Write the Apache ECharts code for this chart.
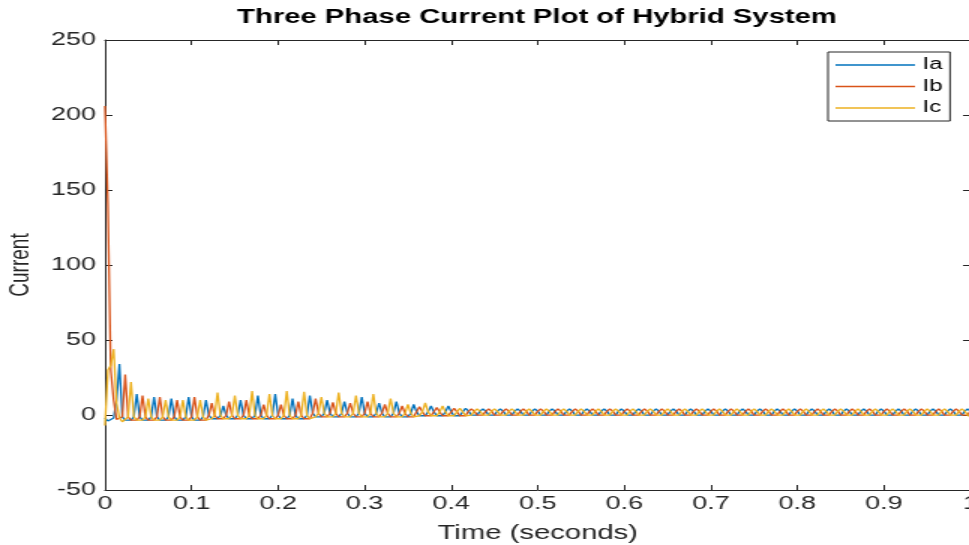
<!DOCTYPE html>
<html>
<head>
<meta charset="utf-8" />
<title>Three Phase Current Plot of Hybrid System</title>
<script src="https://cdn.jsdelivr.net/npm/echarts@6.0.0/dist/echarts.min.js"></script>
<style>
  html, body {
    margin: 0;
    padding: 0;
    background: #fff;
    overflow: hidden;
  }
  /* the figure is exported with a wide aspect, so draw narrow and stretch it */
  #main {
    width: 647px;
    height: 545px;
    transform: scaleX(1.5);
    transform-origin: 0 0;
  }
</style>
</head>
<body>
<div id="main"></div>
<script>
// sample step of the simulation output (s)
const dt = 1 / 300;

const xTicks = [0, 1, 0.1];
const yTicks = [-50, 250, 50];
const legendNames = ["Ia", "Ib", "Ic"];

// phase A current
const ia = [
  -2, -4, -3, -2, 10, 34,
  -1.2, -3.4, -4.5, -3.4, -1.2, 14,
  -1.2, -3.4, -4.5, -3.4, -1.2, 12,
  -1.2, -3.4, -4.5, -3.4, -1.2, 11,
  -1.2, -3.4, -4.5, -3.4, -1.2, 12,
  -1.2, -3.4, -4.5, -3.4, -1.2, 10,
  -0.2, -2.5, -3.6, -2.5, -0.2, 6,
  -0.2, -2.5, -3.6, -2.5, -0.2, 10,
  -0.2, -2.5, -3.6, -2.5, -0.2, 13,
  -0.2, -2.5, -3.6, -2.5, -0.2, 14,
  -0.2, -2.5, -3.6, -2.5, -0.2, 11,
  -0.2, -2.5, -3.6, -2.5, -0.2, 13,
  1.2, -1.2, -2.5, -1.2, 1.2, 10,
  1.2, -1.2, -2.5, -1.2, 1.2, 9,
  1.2, -1.2, -2.5, -1.2, 1.2, 12,
  1.2, -1.2, -2.5, -1.2, 1.2, 8,
  1.2, -1.2, -2.5, -1.2, 1.2, 9,
  1.2, -1.2, -2.5, -1.2, 1.2, 7,
  2.1, -0.5, -1.8, -0.5, 2.1, 6,
  2.1, -0.5, -1.8, -0.5, 2.1, 6,
  2.1, -0.5, -1.8, -0.5, 2.1, 4.5,
  2.6, -0.1, -1.4, -0.1, 2.6, 4,
  2.6, -0.1, -1.4, -0.1, 2.6, 4,
  2.6, -0.1, -1.4, -0.1, 2.6, 4,
  2.6, -0.1, -1.4, -0.1, 2.6, 4,
  2.6, -0.1, -1.4, -0.1, 2.6, 4,
  2.6, -0.1, -1.4, -0.1, 2.6, 4,
  2.6, -0.1, -1.4, -0.1, 2.6, 4,
  2.6, -0.1, -1.4, -0.1, 2.6, 4,
  2.6, -0.1, -1.4, -0.1, 2.6, 4,
  2.6, -0.1, -1.4, -0.1, 2.6, 4,
  2.6, -0.1, -1.4, -0.1, 2.6, 4,
  2.6, -0.1, -1.4, -0.1, 2.6, 4,
  2.6, -0.1, -1.4, -0.1, 2.6, 4,
  2.6, -0.1, -1.4, -0.1, 2.6, 4,
  2.6, -0.1, -1.4, -0.1, 2.6, 4,
  2.6, -0.1, -1.4, -0.1, 2.6, 4,
  2.6, -0.1, -1.4, -0.1, 2.6, 4,
  2.6, -0.1, -1.4, -0.1, 2.6, 4,
  2.6, -0.1, -1.4, -0.1, 2.6, 4,
  2.6, -0.1, -1.4, -0.1, 2.6, 4,
  2.6, -0.1, -1.4, -0.1, 2.6, 4,
  2.6, -0.1, -1.4, -0.1, 2.6, 4,
  2.6, -0.1, -1.4, -0.1, 2.6, 4,
  2.6, -0.1, -1.4, -0.1, 2.6, 4,
  2.6, -0.1, -1.4, -0.1, 2.6, 4,
  2.6, -0.1, -1.4, -0.1, 2.6, 4,
  2.6, -0.1, -1.4, -0.1, 2.6, 4,
  2.6, -0.1, -1.4, -0.1, 2.6, 4,
  2.6, -0.1, -1.4, -0.1, 2.6, 4,
  2.6
];

// phase B current
const ib = [
  206, 140, 30, 10, -3, -2,
  -1.2, 27, -1.2, -3.4, -4.5, -3.4,
  -1.2, 13, -1.2, -3.4, -4.5, -3.4,
  -1.2, 12, -1.2, -3.4, -4.5, -3.4,
  -1.2, 10, -1.2, -3.4, -4.5, -3.4,
  -1.2, 12, -1.2, -3.4, -4.5, -3.4,
  -0.2, 8, -0.2, -2.5, -3.6, -2.5,
  -0.2, 9, -0.2, -2.5, -3.6, -2.5,
  -0.2, 10, -0.2, -2.5, -3.6, -2.5,
  -0.2, 7, -0.2, -2.5, -3.6, -2.5,
  -0.2, 7, -0.2, -2.5, -3.6, -2.5,
  -0.2, 9, -0.2, -2.5, -3.6, -2.5,
  1.2, 11, 1.2, -1.2, -2.5, -1.2,
  1.2, 8.5, 1.2, -1.2, -2.5, -1.2,
  1.2, 8, 1.2, -1.2, -2.5, -1.2,
  1.2, 9, 1.2, -1.2, -2.5, -1.2,
  1.2, 7, 1.2, -1.2, -2.5, -1.2,
  1.2, 6, 1.2, -1.2, -2.5, -1.2,
  2.1, 5.5, 2.1, -0.5, -1.8, -0.5,
  2.1, 5, 2.1, -0.5, -1.8, -0.5,
  2.1, 4.5, 2.1, -0.5, -1.8, -0.5,
  2.6, 4, 2.6, -0.1, -1.4, -0.1,
  2.6, 4, 2.6, -0.1, -1.4, -0.1,
  2.6, 4, 2.6, -0.1, -1.4, -0.1,
  2.6, 4, 2.6, -0.1, -1.4, -0.1,
  2.6, 4, 2.6, -0.1, -1.4, -0.1,
  2.6, 4, 2.6, -0.1, -1.4, -0.1,
  2.6, 4, 2.6, -0.1, -1.4, -0.1,
  2.6, 4, 2.6, -0.1, -1.4, -0.1,
  2.6, 4, 2.6, -0.1, -1.4, -0.1,
  2.6, 4, 2.6, -0.1, -1.4, -0.1,
  2.6, 4, 2.6, -0.1, -1.4, -0.1,
  2.6, 4, 2.6, -0.1, -1.4, -0.1,
  2.6, 4, 2.6, -0.1, -1.4, -0.1,
  2.6, 4, 2.6, -0.1, -1.4, -0.1,
  2.6, 4, 2.6, -0.1, -1.4, -0.1,
  2.6, 4, 2.6, -0.1, -1.4, -0.1,
  2.6, 4, 2.6, -0.1, -1.4, -0.1,
  2.6, 4, 2.6, -0.1, -1.4, -0.1,
  2.6, 4, 2.6, -0.1, -1.4, -0.1,
  2.6, 4, 2.6, -0.1, -1.4, -0.1,
  2.6, 4, 2.6, -0.1, -1.4, -0.1,
  2.6, 4, 2.6, -0.1, -1.4, -0.1,
  2.6, 4, 2.6, -0.1, -1.4, -0.1,
  2.6, 4, 2.6, -0.1, -1.4, -0.1,
  2.6, 4, 2.6, -0.1, -1.4, -0.1,
  2.6, 4, 2.6, -0.1, -1.4, -0.1,
  2.6, 4, 2.6, -0.1, -1.4, -0.1,
  2.6, 4, 2.6, -0.1, -1.4, -0.1,
  2.6, 4, 2.6, -0.1, -1.4, -0.1,
  2.6
];

// phase C current
const ic = [
  -7, 30, 33, 44, 8, -2,
  -4.5, -3.4, -1.2, 22, -1.2, -3.4,
  -4.5, -3.4, -1.2, 11, -1.2, -3.4,
  -4.5, -3.4, -1.2, 10, -1.2, -3.4,
  -4.5, -3.4, -1.2, 10, -1.2, -3.4,
  -4.5, -3.4, -1.2, 10, -1.2, -3.4,
  -3.6, -2.5, -0.2, 15, -0.2, -2.5,
  -3.6, -2.5, -0.2, 13, -0.2, -2.5,
  -3.6, -2.5, -0.2, 16, -0.2, -2.5,
  -3.6, -2.5, -0.2, 14, -0.2, -2.5,
  -3.6, -2.5, -0.2, 16, -0.2, -2.5,
  -3.6, -2.5, -0.2, 15.5, -0.2, -2.5,
  -2.5, -1.2, 1.2, 12, 1.2, -1.2,
  -2.5, -1.2, 1.2, 15, 1.2, -1.2,
  -2.5, -1.2, 1.2, 13, 1.2, -1.2,
  -2.5, -1.2, 1.2, 14, 1.2, -1.2,
  -2.5, -1.2, 1.2, 11, 1.2, -1.2,
  -2.5, -1.2, 1.2, 7, 1.2, -1.2,
  -1.8, -0.5, 2.1, 8, 2.1, -0.5,
  -1.8, -0.5, 2.1, 6, 2.1, -0.5,
  -1.8, -0.5, 2.1, 4.5, 2.1, -0.5,
  -1.4, -0.1, 2.6, 4, 2.6, -0.1,
  -1.4, -0.1, 2.6, 4, 2.6, -0.1,
  -1.4, -0.1, 2.6, 4, 2.6, -0.1,
  -1.4, -0.1, 2.6, 4, 2.6, -0.1,
  -1.4, -0.1, 2.6, 4, 2.6, -0.1,
  -1.4, -0.1, 2.6, 4, 2.6, -0.1,
  -1.4, -0.1, 2.6, 4, 2.6, -0.1,
  -1.4, -0.1, 2.6, 4, 2.6, -0.1,
  -1.4, -0.1, 2.6, 4, 2.6, -0.1,
  -1.4, -0.1, 2.6, 4, 2.6, -0.1,
  -1.4, -0.1, 2.6, 4, 2.6, -0.1,
  -1.4, -0.1, 2.6, 4, 2.6, -0.1,
  -1.4, -0.1, 2.6, 4, 2.6, -0.1,
  -1.4, -0.1, 2.6, 4, 2.6, -0.1,
  -1.4, -0.1, 2.6, 4, 2.6, -0.1,
  -1.4, -0.1, 2.6, 4, 2.6, -0.1,
  -1.4, -0.1, 2.6, 4, 2.6, -0.1,
  -1.4, -0.1, 2.6, 4, 2.6, -0.1,
  -1.4, -0.1, 2.6, 4, 2.6, -0.1,
  -1.4, -0.1, 2.6, 4, 2.6, -0.1,
  -1.4, -0.1, 2.6, 4, 2.6, -0.1,
  -1.4, -0.1, 2.6, 4, 2.6, -0.1,
  -1.4, -0.1, 2.6, 4, 2.6, -0.1,
  -1.4, -0.1, 2.6, 4, 2.6, -0.1,
  -1.4, -0.1, 2.6, 4, 2.6, -0.1,
  -1.4, -0.1, 2.6, 4, 2.6, -0.1,
  -1.4, -0.1, 2.6, 4, 2.6, -0.1,
  -1.4, -0.1, 2.6, 4, 2.6, -0.1,
  -1.4, -0.1, 2.6, 4, 2.6, -0.1,
  -1.4
];

const colors = ["#0072BD", "#D95319", "#EDB120"];
const font = "'Liberation Sans', Arial, Helvetica, sans-serif";
const axisColor = "#262626";

function toPoints(values) {
  return values.map((v, i) => [i * dt, v]);
}

function makeAxis(ticks, pos, opts) {
  return Object.assign(
    {
      type: "value",
      position: pos,
      min: ticks[0],
      max: ticks[1],
      interval: ticks[2],
      splitLine: { show: false },
      axisLine: { show: true, onZero: false, lineStyle: { color: axisColor, width: 1 } },
      axisTick: { show: true, inside: true, length: 5, lineStyle: { color: axisColor } },
      axisLabel: { show: false }
    },
    opts || {}
  );
}

function init() {
  const myChart = echarts.init(document.getElementById("main"));
  const option = {
    backgroundColor: "#fff",
    animation: false,
    color: colors,
    title: {
      text: "Three Phase Current Plot of Hybrid System",
      left: 358,
      top: 8,
      padding: 0,
      textAlign: "center",
      textStyle: {
        color: "#000",
        fontFamily: font,
        fontSize: 19.5,
        fontWeight: "bold"
      }
    },
    grid: {
      left: 70,
      right: 0,
      top: 40,
      bottom: 55,
      containLabel: false,
      outerBoundsMode: "none"
    },
    legend: {
      data: legendNames,
      orient: "vertical",
      left: 552,
      top: 52,
      padding: [5, 5, 5, 5],
      icon: "rect",
      itemWidth: 53,
      itemHeight: 1.5,
      itemGap: 5.5,
      backgroundColor: "#fff",
      borderColor: axisColor,
      borderWidth: 1,
      textStyle: {
        color: "#000",
        fontFamily: font,
        fontSize: 16,
        lineHeight: 16
      }
    },
    xAxis: [
      makeAxis(xTicks, "bottom", {
        name: "Time (seconds)",
        nameLocation: "middle",
        nameGap: 34,
        nameTextStyle: { color: axisColor, fontFamily: font, fontSize: 19.5 },
        axisLabel: {
          show: true,
          margin: 5,
          color: axisColor,
          fontFamily: font,
          fontSize: 18
        }
      }),
      makeAxis(xTicks, "top")
    ],
    yAxis: [
      makeAxis(yTicks, "left", {
        name: "Current",
        nameLocation: "middle",
        nameGap: 43,
        nameTextStyle: { color: axisColor, fontFamily: font, fontSize: 19 },
        axisLabel: {
          show: true,
          margin: 6,
          color: axisColor,
          fontFamily: font,
          fontSize: 18
        }
      }),
      makeAxis(yTicks, "right")
    ],
    series: [ia, ib, ic].map((values, k) => ({
      name: legendNames[k],
      type: "line",
      data: toPoints(values),
      symbol: "none",
      showSymbol: false,
      clip: true,
      lineStyle: { width: 1.3, color: colors[k] }
    }))
  };

  option && myChart.setOption(option);
}

init();
</script>
</body>
</html>
